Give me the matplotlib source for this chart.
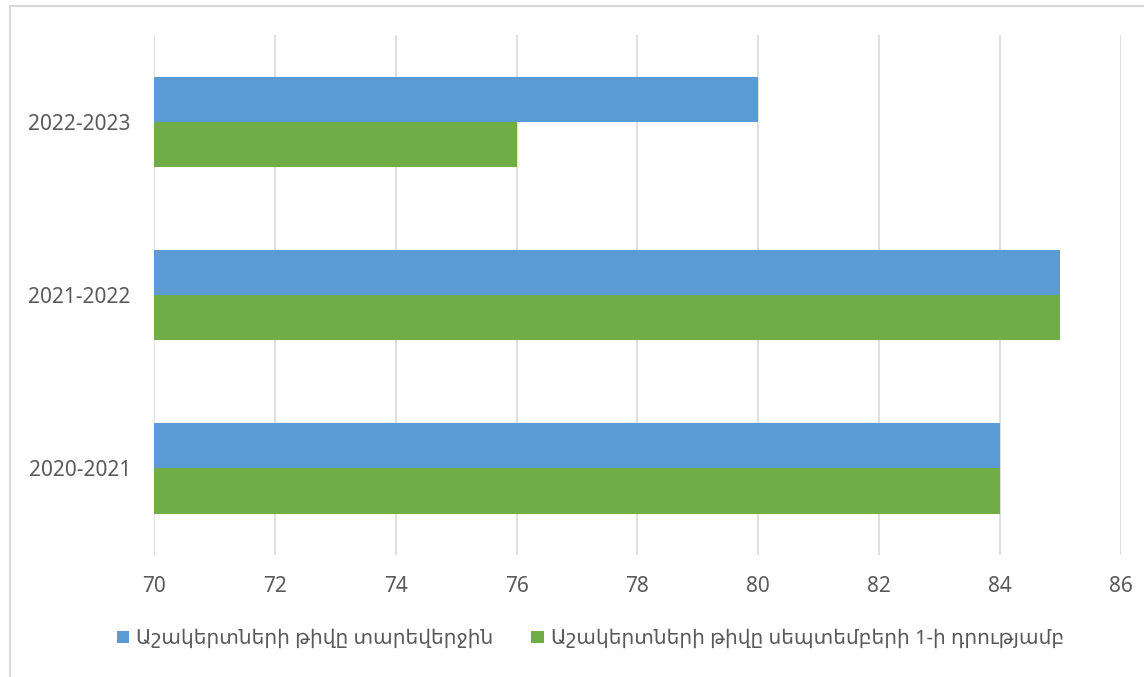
import matplotlib
matplotlib.use("Agg")
import matplotlib.pyplot as plt
from matplotlib.patches import Rectangle
import numpy as np

plt.rcParams['font.family'] = ['Noto Sans', 'DejaVu Sans']

categories = ["2020-2021", "2021-2022", "2022-2023"]
year_end = [84, 85, 80]
sept_first = [84, 85, 76]
series_names = ["Աշակերտների թիվը տարեվերջին",
                "Աշակերտների թիվը սեպտեմբերի 1-ի դրությամբ"]
xticks = [70, 72, 74, 76, 78, 80, 82, 84, 86]

fig = plt.figure(figsize=(11.44, 6.77), dpi=100)
ax = fig.add_axes([0.135, 0.180, 0.8445, 0.768])

y = np.arange(len(categories))
h = 0.26
base = 70
ax.barh(y + h / 2, np.array(year_end) - base, left=base, height=h, color="#5B9BD5", label=series_names[0], zorder=3)
ax.barh(y - h / 2, np.array(sept_first) - base, left=base, height=h, color="#70AD47", label=series_names[1], zorder=3)

ax.set_xlim(70, 86)
ax.set_ylim(-0.5, 2.5)
ax.set_xticks(xticks)
ax.set_xticklabels([str(t) for t in xticks])
ax.set_yticks(y)
ax.set_yticklabels(categories)
ax.grid(axis="x", color="#D9D9D9", linewidth=1.2, zorder=0)
for s in ax.spines.values():
    s.set_visible(False)
ax.tick_params(axis="both", length=0, labelsize=15, colors="#595959")
ax.tick_params(axis="x", pad=15)
ax.tick_params(axis="y", pad=17)

leg = fig.legend(loc="center", bbox_to_anchor=(0.516, 0.056), ncol=2, frameon=False,
                 fontsize=14.5, handlelength=0.6, handleheight=0.6, handletextpad=0.35,
                 columnspacing=1.9)
for t in leg.get_texts():
    t.set_color("#595959")

fig.patches.append(Rectangle((10 / 1144, -0.05), 1.2, 1 - 6 / 677 + 0.05, transform=fig.transFigure,
                             fill=False, edgecolor="#D9D9D9", linewidth=1.5))

fig.savefig("out.png", dpi=100)
